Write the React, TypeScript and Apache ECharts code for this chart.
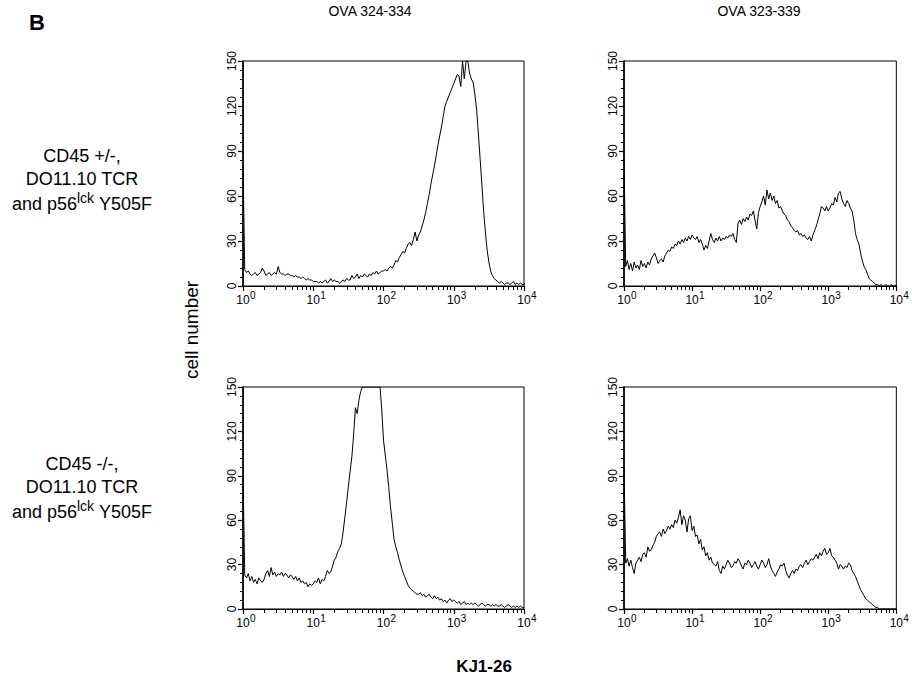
import React, { useEffect, useRef } from "react";
import * as echarts from "echarts";

// 40 histogram channels per decade, from 10^0 (channel 0) to 10^4 (channel 160)
const CHANNELS = Array.from({ length: 161 }, (_, i) => String(i));

// fine log grid (1/1000 decade) used only to place the minor ticks 2..9 of each decade
const FINE_STEPS = Array.from({ length: 4001 }, (_, i) => String(i));
const X_MINOR = [
  2, 3, 4, 5, 6, 7, 8, 9,
  20, 30, 40, 50, 60, 70, 80, 90,
  200, 300, 400, 500, 600, 700, 800, 900,
  2000, 3000, 4000, 5000, 6000, 7000, 8000, 9000,
];
const MINOR_IDX = new Set(X_MINOR.map((v) => Math.round(Math.log10(v) * 1000)));

const Y_MAX = 150;
const Y_INTERVAL = 30;

const COL_TITLES = ["OVA 324-334", "OVA 323-339"];
const ROW_LINE1 = ["CD45 +/-,", "CD45 -/-,"];
const ROW_LINE2 = ["DO11.10 TCR", "DO11.10 TCR"];
const Y_TITLE = "cell number";
const X_TITLE = "KJ1-26";
const PANEL_LETTER = "B";

// top-left: CD45 +/-, OVA 324-334
const hetShort = [
  80, 11, 9, 10, 8, 7, 8, 9, 7, 8, 9, 12, 10, 7, 8, 9, 7, 8, 9, 8, 13,
  9, 8, 8, 7, 8, 8, 7, 7, 6, 7, 6, 6, 5, 6, 5, 4, 5, 4, 4, 3,
  3, 3, 2, 3, 2, 3, 4, 2, 3, 5, 3, 4, 3, 3, 2, 3, 4, 3, 5, 4,
  4, 7, 5, 6, 8, 5, 7, 6, 8, 7, 6, 8, 7, 9, 8, 10, 8, 9, 10, 10,
  11, 10, 12, 13, 12, 14, 17, 16, 19, 21, 23, 22, 25, 28, 29, 27, 31, 36, 30, 34,
  36, 40, 44, 49, 55, 61, 68, 74, 80, 87, 94, 100, 106, 113, 120, 123, 126, 129, 132, 135, 138,
  141, 140, 133, 150, 138, 150, 150, 142, 138, 136, 128, 118, 102, 85, 68, 50, 36, 24, 16, 10,
  7, 5, 4, 3, 2, 3, 2, 1, 2, 2, 1, 2, 3, 1, 2, 1, 2, 1, 1, 2,
];

// top-right: CD45 +/-, OVA 323-339
const hetLong = [
  85, 13, 17, 11, 15, 10, 16, 12, 14, 11, 17, 13, 15, 12, 16, 14, 18, 20, 22, 19, 15,
  17, 18, 16, 20, 22, 24, 23, 26, 25, 28, 27, 30, 28, 31, 29, 32, 30, 33, 31, 34,
  32, 31, 33, 29, 31, 28, 24, 27, 25, 30, 35, 31, 29, 32, 30, 33, 30, 32, 31, 33,
  32, 34, 33, 35, 31, 29, 42, 44, 41, 45, 43, 46, 44, 48, 47, 50, 44, 38, 49, 53,
  56, 60, 54, 64, 58, 62, 57, 60, 55, 57, 52, 53, 50, 48, 47, 44, 43, 40, 39, 37,
  36, 37, 34, 35, 33, 34, 32, 31, 33, 30, 34, 37, 40, 44, 48, 53, 52, 50, 53, 50,
  52, 55, 54, 59, 56, 62, 63, 58, 55, 53, 57, 55, 52, 50, 44, 35, 31, 28, 22, 17,
  13, 11, 8, 5, 4, 3, 2, 1, 1, 0, 1, 0, 0, 1, 0, 0, 1, 0, 0, 1,
];

// bottom-left: CD45 -/-, OVA 324-334
const koShort = [
  90, 23, 21, 24, 19, 22, 18, 20, 17, 21, 19, 18, 20, 24, 26, 22, 28, 23, 25, 22, 24,
  23, 25, 22, 24, 23, 21, 23, 22, 20, 22, 19, 21, 18, 19, 17, 18, 15, 17, 16, 17,
  19, 18, 21, 17, 20, 19, 22, 26, 24, 25, 29, 33, 35, 39, 41, 44, 52, 62, 72, 83,
  93, 103, 118, 136, 132, 141, 147, 150, 150, 150, 150, 150, 150, 150, 150, 150, 150, 150, 135, 114,
  104, 94, 82, 69, 58, 47, 42, 38, 33, 29, 25, 22, 19, 16, 14, 13, 12, 11, 10, 10,
  11, 9, 10, 8, 9, 10, 8, 7, 9, 7, 8, 6, 7, 5, 6, 4, 6, 7, 5, 6,
  5, 4, 5, 3, 4, 5, 3, 4, 3, 4, 3, 4, 3, 2, 3, 4, 3, 2, 3, 3,
  2, 3, 2, 3, 2, 2, 3, 2, 1, 2, 3, 2, 1, 2, 1, 2, 1, 2, 1, 1,
];

// bottom-right: CD45 -/-, OVA 323-339
const koLong = [
  95, 31, 34, 29, 33, 28, 24, 31, 33, 35, 32, 37, 38, 35, 42, 39, 40, 43, 45, 49, 51,
  52, 49, 54, 51, 53, 56, 54, 57, 55, 60, 58, 62, 67, 57, 63, 60, 52, 61, 63, 53,
  56, 49, 50, 44, 47, 40, 42, 36, 38, 33, 35, 31, 30, 29, 32, 26, 24, 29, 27, 30,
  33, 31, 28, 29, 32, 31, 34, 32, 29, 27, 31, 30, 33, 31, 28, 30, 32, 29, 27, 30,
  33, 31, 28, 30, 34, 29, 26, 24, 22, 25, 27, 30, 29, 31, 26, 23, 21, 24, 26, 24,
  27, 26, 29, 30, 28, 31, 33, 30, 32, 34, 33, 35, 37, 34, 38, 36, 39, 41, 37, 38,
  41, 36, 35, 33, 31, 27, 30, 29, 27, 29, 28, 31, 30, 26, 24, 22, 19, 16, 13, 11,
  9, 7, 6, 5, 4, 3, 2, 1, 1, 0, 0, 0, 0, 0, 0, 0, 0, 0, 0, 0,
];

const PANELS = [hetShort, hetLong, koShort, koLong];

const FONT = "Liberation Sans, Arial, Helvetica, sans-serif";

const GRIDS = [
  { left: 243, top: 61, width: 281, height: 225 },
  { left: 624, top: 61, width: 280, height: 225 },
  { left: 243, top: 387, width: 281, height: 222 },
  { left: 624, top: 387, width: 280, height: 222 },
];

function buildOption() {
  const grid: any[] = [];
  const xAxis: any[] = [];
  const yAxis: any[] = [];
  const series: any[] = [];
  GRIDS.forEach((g, gi) => {
    grid.push({
      ...g,
      show: true,
      borderColor: "#000",
      borderWidth: 1,
      backgroundColor: "transparent",
      containLabel: false,
    });
    // visible log axis: decade ticks and labels
    xAxis.push({
      type: "log",
      logBase: 10,
      min: 1,
      max: 10000,
      gridIndex: gi,
      position: "bottom",
      axisLine: { show: true, onZero: false, lineStyle: { color: "#000", width: 1 } },
      axisTick: { show: true, inside: false, length: 5, lineStyle: { color: "#000", width: 1.2 } },
      minorTick: { show: false },
      splitLine: { show: false },
      axisLabel: {
        show: true,
        margin: 4,
        color: "#000",
        fontFamily: FONT,
        formatter: (v: number) => `{p|}{b|10}{s|${Math.round(Math.log10(v))}}`,
        rich: {
          p: { width: 6, fontSize: 12, lineHeight: 16, verticalAlign: "bottom" },
          b: { fontSize: 12, fontFamily: FONT, color: "#000", lineHeight: 16, verticalAlign: "bottom" },
          s: { fontSize: 10, fontFamily: FONT, color: "#000", lineHeight: 10, verticalAlign: "top", width: 6 },
        },
      },
    });
    // minor ticks at 2..9 x 10^k
    xAxis.push({
      type: "category",
      gridIndex: gi,
      position: "bottom",
      boundaryGap: false,
      data: FINE_STEPS,
      axisLine: { show: false },
      axisTick: {
        show: true,
        inside: false,
        length: 4,
        interval: (index: number) => MINOR_IDX.has(index),
        lineStyle: { color: "#000", width: 1 },
      },
      axisLabel: { show: false },
      splitLine: { show: false },
    });
    // channel axis carrying the histogram
    xAxis.push({
      type: "category",
      gridIndex: gi,
      position: "top",
      show: false,
      boundaryGap: false,
      data: CHANNELS,
    });
    yAxis.push({
      type: "value",
      gridIndex: gi,
      min: 0,
      max: Y_MAX,
      interval: Y_INTERVAL,
      axisLine: { show: true, onZero: false, lineStyle: { color: "#000", width: 1.6 } },
      axisTick: { show: true, inside: false, length: 5, lineStyle: { color: "#000", width: 1.2 } },
      minorTick: { show: true, splitNumber: 5, length: 3, lineStyle: { color: "#000", width: 1 } },
      splitLine: { show: false },
      axisLabel: { show: true, rotate: 90, fontSize: 12, fontFamily: FONT, color: "#000", margin: 5 },
    });
    series.push({
      type: "line",
      xAxisIndex: gi * 3 + 2,
      yAxisIndex: gi,
      data: PANELS[gi],
      showSymbol: false,
      symbol: "none",
      clip: true,
      lineStyle: { color: "#000", width: 1 },
      silent: true,
    });
  });

  const textStyle = (size: number, weight = "normal") => ({
    fontSize: size,
    fontFamily: FONT,
    fontWeight: weight,
    fill: "#000",
    align: "center",
    verticalAlign: "middle",
  });

  const graphic: any[] = [
    { type: "text", x: 37, y: 22, style: { ...textStyle(22, "bold"), text: PANEL_LETTER } },
    { type: "text", x: 370, y: 11, style: { ...textStyle(14), text: COL_TITLES[0] } },
    { type: "text", x: 759, y: 11, style: { ...textStyle(14), text: COL_TITLES[1] } },
    {
      type: "text",
      x: 191,
      y: 330,
      rotation: Math.PI / 2,
      style: { ...textStyle(19), text: Y_TITLE },
    },
    { type: "text", x: 484, y: 666, style: { ...textStyle(17, "bold"), text: X_TITLE } },
  ];
  const rowY = [156, 464];
  const RX = 82;
  rowY.forEach((y0, r) => {
    graphic.push({ type: "text", x: RX, y: y0, style: { ...textStyle(18), text: ROW_LINE1[r] } });
    graphic.push({ type: "text", x: RX, y: y0 + 23, style: { ...textStyle(18), text: ROW_LINE2[r] } });
    graphic.push({
      type: "text",
      x: RX,
      y: y0 + 46,
      style: {
        ...textStyle(18),
        text: "{a|and p56}{s|lck}{a| Y505F}",
        rich: {
          a: { fontSize: 18, fontFamily: FONT, fill: "#000", lineHeight: 22, verticalAlign: "bottom" },
          s: { fontSize: 14, fontFamily: FONT, fill: "#000", lineHeight: 13, verticalAlign: "top" },
        },
      },
    });
  });

  return {
    animation: false,
    backgroundColor: "#fff",
    grid,
    xAxis,
    yAxis,
    series,
    graphic,
  };
}

export default function App() {
  const ref = useRef<HTMLDivElement>(null);
  useEffect(() => {
    if (!ref.current) return;
    const chart = echarts.init(ref.current, undefined, { renderer: "svg" });
    chart.setOption(buildOption() as any);
    return () => chart.dispose();
  }, []);
  return (
    <div
      ref={ref}
      style={{ position: "fixed", left: 0, top: 0, width: 912, height: 690, background: "#fff" }}
    />
  );
}
